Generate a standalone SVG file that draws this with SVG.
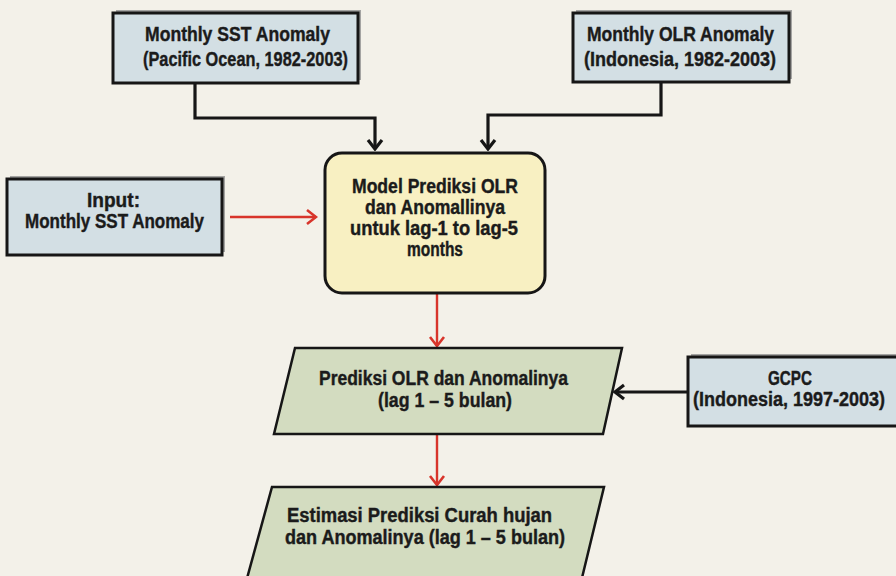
<svg xmlns="http://www.w3.org/2000/svg" width="896" height="576" viewBox="0 0 896 576">
  <defs>
    <style>
      .bg { fill: #f3f1e9; }
      .blue { fill: #d3dfe4; stroke: #161616; stroke-width: 3; }
      .shadow { fill: #a4a4a2; }
      .yellow { fill: #f8f0c2; stroke: #161616; stroke-width: 3; }
      .green { fill: #d3dcc0; stroke: #161616; stroke-width: 2.5; }
      .t { font-family: "Liberation Sans", Arial, sans-serif; font-weight: bold; font-size: 20px; fill: #1b1b1b; stroke: #1b1b1b; stroke-width: 0.4; }
      .blk { fill: none; stroke: #161616; stroke-width: 3.2; }
      .red { fill: none; stroke: #d8352b; stroke-width: 2.4; }
    </style>
    <marker id="arrB" viewBox="-12 -9 14 18" refX="0" refY="0" markerWidth="14" markerHeight="18" markerUnits="userSpaceOnUse" orient="auto">
      <path d="M-9,-7 L0,0 L-9,7" fill="none" stroke="#161616" stroke-width="3.2"/>
    </marker>
    <marker id="arrR" viewBox="-12 -9 14 18" refX="0" refY="0" markerWidth="14" markerHeight="18" markerUnits="userSpaceOnUse" orient="auto">
      <path d="M-9,-7 L0,0 L-9,7" fill="none" stroke="#d8352b" stroke-width="2.6"/>
    </marker>
  </defs>

  <rect class="bg" x="0" y="0" width="896" height="576"/>

  <g id="connectors">
    <path class="blk" d="M195,83 V118 H375 V149" marker-end="url(#arrB)"/>
    <path class="blk" d="M661,82 V115 H488 V149" marker-end="url(#arrB)"/>
    <path class="red" d="M230,217 H316" marker-end="url(#arrR)"/>
    <path class="red" d="M437,294 V346" marker-end="url(#arrR)"/>
    <path class="red" d="M437,435 V485" marker-end="url(#arrR)"/>
    <path class="blk" d="M688,392 H615" marker-end="url(#arrB)"/>
  </g>

  <g id="sst-anomaly">
    <rect class="shadow" x="116" y="10" width="245" height="70"/>
    <rect class="blue" x="113" y="13" width="245" height="70"/>
    <text class="t" x="145" y="41" textLength="185" lengthAdjust="spacingAndGlyphs">Monthly SST Anomaly</text>
    <text class="t" x="143" y="66" textLength="205" lengthAdjust="spacingAndGlyphs">(Pacific Ocean, 1982-2003)</text>
  </g>

  <g id="olr-anomaly">
    <rect class="shadow" x="576" y="10" width="216" height="69"/>
    <rect class="blue" x="573" y="13" width="216" height="69"/>
    <text class="t" x="587" y="41" textLength="187" lengthAdjust="spacingAndGlyphs">Monthly OLR Anomaly</text>
    <text class="t" x="584" y="66" textLength="192" lengthAdjust="spacingAndGlyphs">(Indonesia, 1982-2003)</text>
  </g>

  <g id="input">
    <rect class="shadow" x="10" y="176" width="215" height="76"/>
    <rect class="blue" x="7" y="179" width="215" height="76"/>
    <text class="t" x="87" y="207" textLength="53" lengthAdjust="spacingAndGlyphs">Input:</text>
    <text class="t" x="25" y="228" textLength="179" lengthAdjust="spacingAndGlyphs">Monthly SST Anomaly</text>
  </g>

  <g id="model">
    <rect class="yellow" x="325" y="153" width="220" height="140" rx="17" ry="17"/>
    <text class="t" x="352" y="193" textLength="166" lengthAdjust="spacingAndGlyphs">Model Prediksi OLR</text>
    <text class="t" x="365" y="214" textLength="140" lengthAdjust="spacingAndGlyphs">dan Anomallinya</text>
    <text class="t" x="350" y="235" textLength="168" lengthAdjust="spacingAndGlyphs">untuk lag-1 to lag-5</text>
    <text class="t" x="407" y="256" textLength="56" lengthAdjust="spacingAndGlyphs">months</text>
  </g>

  <g id="prediksi-olr">
    <polygon class="green" points="295,348 622,348 603,434 274,434"/>
    <text class="t" x="319" y="385" textLength="249" lengthAdjust="spacingAndGlyphs">Prediksi OLR dan Anomalinya</text>
    <text class="t" x="378" y="407" textLength="134" lengthAdjust="spacingAndGlyphs">(lag 1 – 5 bulan)</text>
  </g>

  <g id="gcpc">
    <rect class="shadow" x="691" y="354" width="212" height="69"/>
    <rect class="blue" x="688" y="357" width="212" height="69"/>
    <text class="t" x="768" y="385" textLength="44" lengthAdjust="spacingAndGlyphs">GCPC</text>
    <text class="t" x="693" y="406" textLength="192" lengthAdjust="spacingAndGlyphs">(Indonesia, 1997-2003)</text>
  </g>

  <g id="estimasi">
    <polygon class="green" points="272,487 604,487 581,582 246,582"/>
    <text class="t" x="287" y="522" textLength="265" lengthAdjust="spacingAndGlyphs">Estimasi Prediksi Curah hujan</text>
    <text class="t" x="285" y="544" textLength="280" lengthAdjust="spacingAndGlyphs">dan Anomalinya (lag 1 – 5 bulan)</text>
  </g>
</svg>
